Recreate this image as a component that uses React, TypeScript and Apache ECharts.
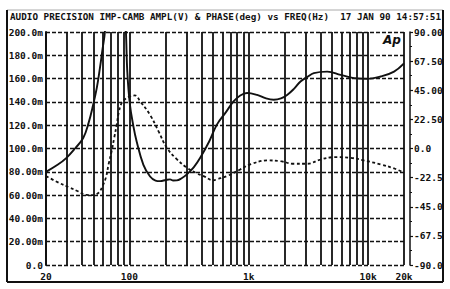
import React, { useEffect, useRef } from "react";
import * as echarts from "echarts";

// Impedance magnitude (solid, left axis, in "m" units) — [frequency Hz, value]
const impedanceFreq = [20, 25, 29.7, 35, 41, 45.5, 49.7, 53.3, 56.6, 59.5, 62.3, 67, 77, 88, 93.5, 96, 101, 107.6, 115, 131, 149, 165.6, 181, 202, 219, 233, 249, 274, 303, 347, 392, 466, 541, 642, 746, 849, 968, 1175, 1397, 1619, 1863, 2097, 2380, 2716, 3105, 3511, 4548, 5885, 7620, 9860, 12760, 16510, 20000];
const impedanceVal = [80, 86, 92, 100, 109, 122, 137.6, 152, 169, 185, 200, 250, 300, 250, 200, 166, 137.6, 120, 106, 86, 76, 72.5, 72, 73, 73.5, 72.5, 72.6, 74.5, 77.8, 84, 92, 106, 120.5, 131, 140.4, 145.5, 147.6, 146, 143, 141.9, 143, 146, 151, 157.5, 161.5, 164.7, 166, 163.2, 160.4, 159.8, 161.8, 166, 173];

// Phase (dashed, right axis, degrees) — [frequency Hz, value]
const phaseFreq = [20, 25, 31.6, 37, 43.7, 49.6, 55.5, 59.5, 63.5, 67, 71, 74.5, 78.3, 81.5, 86, 93, 101, 111, 124, 149, 176, 206, 248, 303, 362, 418, 507, 541, 657, 848, 1029, 1424, 1844, 2382, 3087, 3994, 5171, 7136, 9235, 12750, 16500, 20000];
const phaseVal = [-21.3, -26, -30.2, -33, -35.9, -36, -34, -29, -22.5, -12, -2, 8, 18.5, 28, 35, 38.5, 40.2, 41, 36, 26, 13, 0.5, -8, -14.8, -19, -21.3, -24.6, -23.8, -21.3, -16.2, -12.3, -9.2, -9.8, -11.8, -11.8, -8.5, -6.7, -7.2, -9.2, -12.3, -15.4, -18.7];

// Axis tick labels
const leftTickLabels = ["0.0", "20.00m", "40.00m", "60.00m", "80.00m", "100.0m", "120.0m", "140.0m", "160.0m", "180.0m", "200.0m"];
const rightTickLabels = ["-90.0", "-67.5", "-45.0", "-22.5", "0.0", "22.50", "45.00", "67.50", "90.00"];
const decades = [10, 100, 1000, 10000];
const gridMultipliers = [1, 2, 3, 4, 5, 6, 7, 8, 9];

const titleLeft = "AUDIO PRECISION IMP-CAMB AMPL(V) & PHASE(deg) vs FREQ(Hz)";
const titleRight = "17 JAN 90 14:57:51";

const FONT = "'DejaVu Sans Mono', monospace";
const INK = "#111";

export default function App() {
  const ref = useRef<HTMLDivElement>(null);
  useEffect(() => {
    if (!ref.current) return;
    const chart = echarts.init(ref.current, null, { renderer: "svg" });

    const gridFreqs: number[] = [];
    decades.forEach((d) =>
      gridMultipliers.forEach((m) => {
        const f = d * m;
        if (f >= 20 && f <= 20000) gridFreqs.push(f);
      })
    );

    const impData = impedanceFreq.map((f, i) => [f, impedanceVal[i]]);
    const phData = phaseFreq.map((f, i) => [f, phaseVal[i]]);

    const labelStyle = {
      fontFamily: FONT,
      fontWeight: "bold" as const,
      fontSize: 9.5,
      color: INK,
    };

    chart.setOption({
      animation: false,
      backgroundColor: "#fff",
      grid: { left: 46, top: 32, width: 358, height: 233, containLabel: false },
      xAxis: {
        type: "log",
        logBase: 10,
        min: 20,
        max: 20000,
        axisLine: { show: false },
        axisTick: { show: false },
        splitLine: { show: false },
        axisLabel: {
          ...labelStyle,
          margin: 6,
          showMinLabel: true,
          showMaxLabel: true,
          formatter: (v: number) => {
            const r = Math.round(v);
            return r >= 1000 ? `${Math.round(r / 1000)}k` : `${r}`;
          },
        },
      },
      yAxis: [
        {
          type: "value",
          min: 0,
          max: 200,
          interval: 20,
          position: "left",
          axisLine: { show: true, lineStyle: { color: INK, width: 2 } },
          axisTick: { show: false },
          splitLine: {
            show: true,
            lineStyle: { color: INK, width: 1.4, type: [4, 2] },
          },
          axisLabel: {
            ...labelStyle,
            margin: 3,
            formatter: (v: number) => leftTickLabels[Math.round(v / 20)] ?? "",
          },
        },
        {
          type: "value",
          min: -90,
          max: 90,
          interval: 22.5,
          position: "right",
          offset: 6,
          axisLine: { show: true, lineStyle: { color: INK, width: 1.5 } },
          axisTick: { show: true, length: 3, lineStyle: { color: INK, width: 1.2 } },
          minorTick: { show: true, splitNumber: 2, length: 2, lineStyle: { color: INK } },
          splitLine: { show: false },
          axisLabel: {
            ...labelStyle,
            margin: 4,
            formatter: (v: number) => rightTickLabels[Math.round((v + 90) / 22.5)] ?? "",
          },
        },
      ],
      series: [
        {
          type: "line",
          name: "Impedance",
          yAxisIndex: 0,
          data: impData,
          smooth: 0.4,
          showSymbol: false,
          clip: true,
          lineStyle: { color: INK, width: 1.9 },
          z: 3,
          markLine: {
            silent: true,
            symbol: ["none", "none"],
            label: { show: false },
            lineStyle: { color: INK, width: 1.8, type: "solid" },
            data: gridFreqs.map((f) => ({ xAxis: f })),
            z: 1,
          },
        },
        {
          type: "line",
          name: "Phase",
          yAxisIndex: 1,
          data: phData,
          smooth: 0.4,
          showSymbol: false,
          clip: true,
          lineStyle: { color: INK, width: 1.8, type: [3, 2.5] },
          z: 3,
        },
      ],
      graphic: [
        { type: "line", shape: { x1: 7, y1: 10, x2: 443, y2: 10 }, style: { stroke: "#aaa", lineWidth: 1 } },
        { type: "line", shape: { x1: 7, y1: 10, x2: 7, y2: 282 }, style: { stroke: INK, lineWidth: 2 } },
        { type: "line", shape: { x1: 7, y1: 282, x2: 443, y2: 282 }, style: { stroke: INK, lineWidth: 2 } },
        { type: "line", shape: { x1: 443, y1: 10, x2: 443, y2: 282 }, style: { stroke: INK, lineWidth: 2 } },
        {
          type: "text",
          x: 10,
          y: 16.5,
          style: {
            text: titleLeft,
            font: `bold 9.3px ${FONT}`,
            fill: INK,
            textVerticalAlign: "middle",
            textAlign: "left",
          },
        },
        {
          type: "text",
          x: 441,
          y: 16.5,
          style: {
            text: titleRight,
            font: `bold 9.3px ${FONT}`,
            fill: INK,
            textVerticalAlign: "middle",
            textAlign: "right",
          },
        },
        {
          type: "text",
          x: 392,
          y: 40,
          style: {
            text: "Ap",
            font: `italic bold 12px 'DejaVu Sans'`,
            fill: INK,
            textVerticalAlign: "middle",
            textAlign: "center",
          },
        },
      ],
    });
    return () => chart.dispose();
  }, []);
  return (
    <div
      ref={ref}
      style={{ position: "fixed", left: 0, top: 0, width: 450, height: 289 }}
    />
  );
}
